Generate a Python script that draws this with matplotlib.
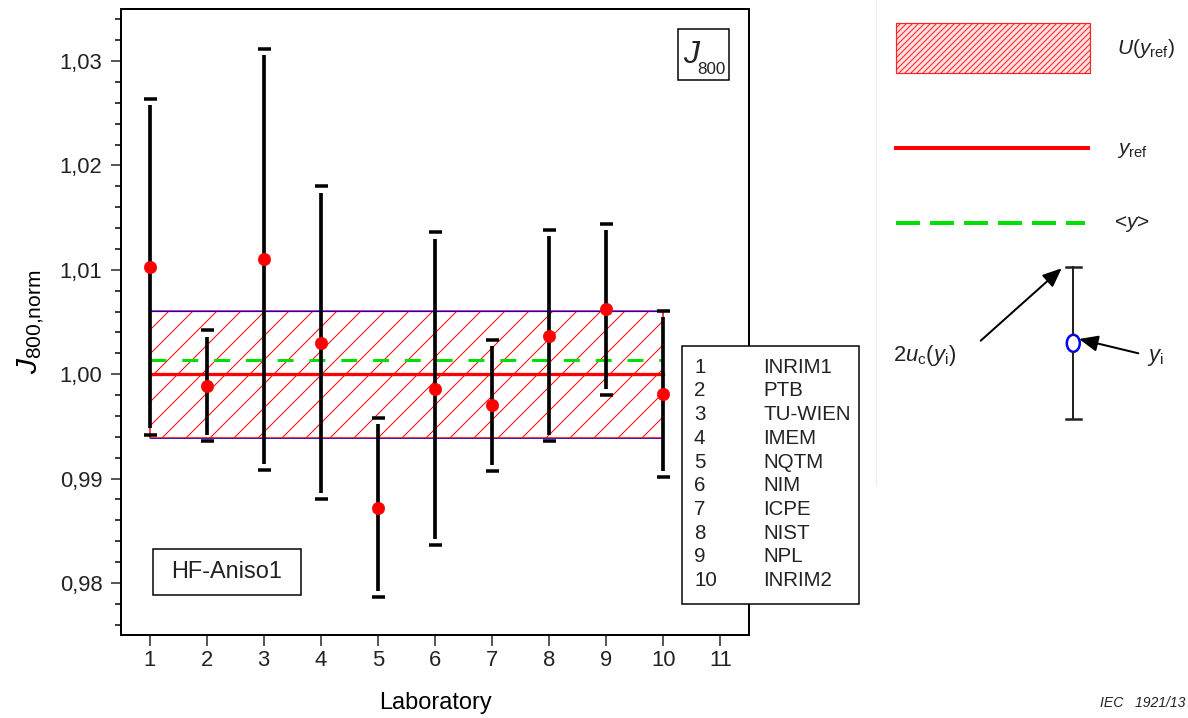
import numpy as np
import matplotlib
matplotlib.use('Agg')
import matplotlib.pyplot as plt
from matplotlib.patches import Rectangle, Ellipse
from matplotlib.ticker import MultipleLocator, FuncFormatter

plt.rcParams['font.family'] = ['Liberation Sans', 'DejaVu Sans']
plt.rcParams['mathtext.fontset'] = 'custom'
plt.rcParams['mathtext.rm'] = 'Liberation Sans'
plt.rcParams['mathtext.it'] = 'Liberation Sans:italic'
plt.rcParams['mathtext.bf'] = 'Liberation Sans:bold'
plt.rcParams['hatch.linewidth'] = 1.0
plt.rcParams['text.color'] = '#222222'

# dados
labs = np.array([1, 2, 3, 4, 5, 6, 7, 8, 9, 10])
lab_names = ['INRIM1', 'PTB', 'TU-WIEN', 'IMEM', 'NQTM', 'NIM', 'ICPE', 'NIST', 'NPL', 'INRIM2']
j800 = np.array([1.0103, 0.9989, 1.0110, 1.0030, 0.9872, 0.9986, 0.9970, 1.0037, 1.0062, 0.9981])
u2 = np.array([0.0161, 0.0053, 0.0202, 0.0150, 0.0086, 0.0150, 0.0063, 0.0101, 0.0082, 0.0080])
y_ref = 1.000
U_ref = 0.0061
y_mean = 1.0014

W, H = 1188, 718
fig = plt.figure(figsize=(W / 72, H / 72), dpi=72)
ax = fig.add_axes([121 / W, 1 - 635 / H, 628 / W, 626 / H])

# banda U(y_ref)
ax.fill_between([labs[0], labs[-1]], y_ref - U_ref, y_ref + U_ref, facecolor='none',
                edgecolor='red', hatch='/', linewidth=1.5, zorder=1)
ax.plot([labs[0], labs[-1]], [y_ref + U_ref] * 2, color='blue', lw=1.2, zorder=2)
ax.plot([labs[0], labs[-1]], [y_ref - U_ref] * 2, color='blue', lw=0.7, zorder=2)
ax.plot([labs[0], labs[-1]], [y_ref] * 2, color='red', lw=3.3, zorder=2)
ax.plot([labs[0], labs[-1]], [y_mean] * 2, color='#00e000', lw=3, dashes=(5.3, 5.3), zorder=2)

# barras de erro
gap = 0.0006
ax.vlines(labs, j800 - u2 + gap, j800 + u2 - gap, color='black', lw=3.7, zorder=3)
ax.plot(labs, j800 + u2, ls='none', marker='_', ms=13, mew=3.5, color='black', zorder=3)
ax.plot(labs, j800 - u2, ls='none', marker='_', ms=13, mew=3.5, color='black', zorder=3)
ax.plot(labs, j800, ls='none', marker='o', ms=12.5, color='red', mec='red', mew=0.5, zorder=4)

ax.set_xlim(0.5, 11.5)
ax.set_ylim(0.975, 1.035)
ax.xaxis.set_major_locator(MultipleLocator(1))
ax.yaxis.set_major_locator(MultipleLocator(0.01))
ax.yaxis.set_minor_locator(MultipleLocator(0.002))
ax.yaxis.set_major_formatter(FuncFormatter(lambda v, p: f'{v:.2f}'.replace('.', ',')))
ax.tick_params(axis='both', which='major', direction='out', length=10.5, width=1.5,
               labelsize=22, colors='#222222')
ax.tick_params(axis='x', pad=5)
ax.tick_params(axis='y', pad=8)
ax.tick_params(axis='y', which='minor', direction='out', length=5.7, width=1.5)
for s in ax.spines.values():
    s.set_linewidth(2)
ax.set_xlabel('Laboratory', fontsize=23.5, labelpad=21)
ax.set_ylabel(r'$J_{\mathrm{800{,}norm}}$', fontsize=30)
ax.yaxis.set_label_coords(-0.118, 0.5)

# camada de anotacoes
key = fig.add_axes([0, 0, 1, 1], zorder=5)
key.set_xlim(0, W)
key.set_ylim(H, 0)
key.axis('off')

key.add_patch(Rectangle((681.7, 345.7), 177.3, 258.3, facecolor='white', edgecolor='black', lw=1.5))
for i, (n, name) in enumerate(zip(labs, lab_names)):
    key.text(694, 367.3 + i * 23.7, str(n), va='center', fontsize=20.5)
    key.text(763, 367.3 + i * 23.7, name, va='center', fontsize=20.5)

key.add_patch(Rectangle((677.7, 29.3), 51.6, 50.7, facecolor='white', edgecolor='black', lw=1.5))
key.text(683, 63.3, 'J', style='italic', fontsize=32, va='baseline')
key.text(697.5, 74, '800', fontsize=17, va='baseline')

key.add_patch(Rectangle((152.7, 549.3), 148, 45.7, facecolor='white', edgecolor='black', lw=1.5))
key.text(226.5, 572.5, 'HF-Aniso1', fontsize=23.5, ha='center', va='center')

# legenda da direita
key.plot([876, 876], [0, 485], color='#ececec', lw=1)
key.add_patch(Rectangle((895.7, 23.3), 194.3, 50, facecolor='#ffe0e0', edgecolor='#ff2020',
                        hatch='////', lw=1.2))
key.text(1117, 48, r'$U(y_\mathrm{ref})$', fontsize=21, va='center')
key.plot([895.7, 1088], [147.7, 147.7], color='red', lw=4)
key.text(1117, 150, r'$y_\mathrm{ref}$', fontsize=21, va='center')
key.plot([895.7, 1085], [223.3, 223.3], color='#00e000', lw=4, dashes=(6, 2.5))
key.text(1114, 224, r'<$y$>', fontsize=21, va='center')

key.plot([1073.3, 1073.3], [267, 334], color='#222222', lw=2)
key.plot([1073.3, 1073.3], [353, 419], color='#222222', lw=2)
key.plot([1066, 1081], [267, 267], color='#222222', lw=2.5)
key.plot([1066, 1081], [419, 419], color='#222222', lw=2.5)
key.add_patch(Ellipse((1073.3, 343.3), 13, 17, fill=False, edgecolor='blue', lw=2.5))
arrow = dict(arrowstyle='-|>,head_length=0.4,head_width=0.17', color='black', lw=2,
             mutation_scale=40, shrinkA=0, shrinkB=0)
key.annotate('', xy=(1061.7, 268.3), xytext=(980.7, 340.7), arrowprops=arrow)
key.annotate('', xy=(1079, 339), xytext=(1138.3, 353.3), arrowprops=arrow)
key.text(893, 355, r'$2u_\mathrm{c}(y_\mathrm{i})$', fontsize=22, va='center')
key.text(1147, 357, r'$y_\mathrm{i}$', fontsize=22, va='center')

key.text(1185, 703, 'IEC   1921/13', style='italic', fontsize=14, ha='right', va='center')

fig.savefig('out.png', dpi=72)
